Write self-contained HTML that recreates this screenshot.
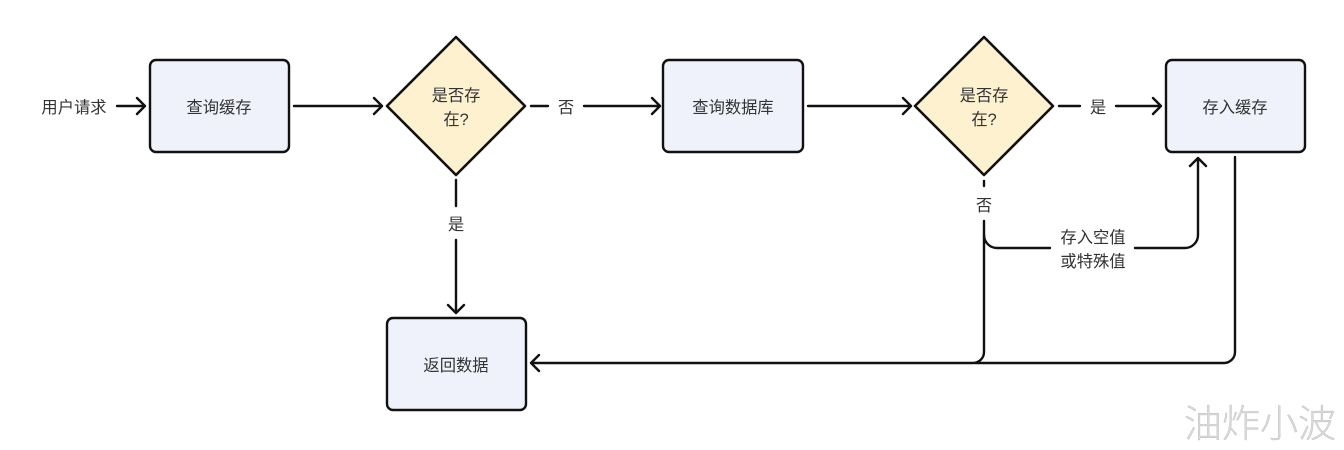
<!DOCTYPE html>
<html><head><meta charset="utf-8"><style>
html,body{margin:0;padding:0;background:#fff}
svg{display:block}
text{font-family:"Liberation Sans","Noto Sans CJK SC",sans-serif;font-size:16.3px;fill:#333;text-anchor:middle}
.n{fill:#eff2fb;stroke:#111;stroke-width:2.4}
.d{fill:#fdf1cf;stroke:#111;stroke-width:2.6;stroke-linejoin:round}
.l{fill:none;stroke:#111;stroke-width:2.4;stroke-linecap:round;stroke-linejoin:round}
</style></head><body>
<svg width="1344" height="450" viewBox="0 0 1344 450" xmlns="http://www.w3.org/2000/svg">
<rect class="n" x="150" y="60" width="139" height="92" rx="6"/>
<rect class="n" x="663" y="60" width="140" height="92" rx="6"/>
<rect class="n" x="1166" y="60" width="139" height="92" rx="6"/>
<rect class="n" x="387" y="318" width="139" height="92" rx="6"/>
<polygon class="d" points="456,37 525,106 456,175 387,106"/>
<polygon class="d" points="984,37 1053,106 984,175 915,106"/>

<path class="l" d="M117 106H145M137 98l8 8l-8 8"/>
<path class="l" d="M294 106H382M374 98l8 8l-8 8"/>
<path class="l" d="M531 106H548M584 106H660M652 98l8 8l-8 8"/>
<path class="l" d="M808 106H911M903 98l8 8l-8 8"/>
<path class="l" d="M1059 106H1080M1116 106H1161M1153 98l8 8l-8 8"/>
<path class="l" d="M456 180V206M456 240V313M448 305l8 8l8 -8"/>
<path class="l" d="M984 181V186M984 221V352a11 11 0 0 1 -11 11H531M539 355l-8 8l8 8"/>
<path class="l" d="M984 235a13 13 0 0 0 13 13H1050M1135 248H1185a13 13 0 0 0 13 -13V158M1190 166l8 -8l8 8"/>
<path class="l" d="M1235 157V352a11 11 0 0 1 -11 11H975"/>

<text x="74" y="113">用户请求</text>
<text x="219" y="113">查询缓存</text>
<text x="456" y="101">是否存</text>
<text x="456" y="125">在?</text>
<text x="566" y="113">否</text>
<text x="733" y="113">查询数据库</text>
<text x="984" y="101">是否存</text>
<text x="984" y="125">在?</text>
<text x="1098" y="113">是</text>
<text x="1235" y="113">存入缓存</text>
<text x="456" y="230">是</text>
<text x="984" y="211">否</text>
<text x="1093" y="243">存入空值</text>
<text x="1093" y="267">或特殊值</text>
<text x="456" y="371">返回数据</text>
<text x="1260" y="437" style="font-size:38px;font-weight:300;fill:#d9d9d9;stroke:#b5b5b5;stroke-width:.3">油炸小波</text>
</svg>
</body></html>
